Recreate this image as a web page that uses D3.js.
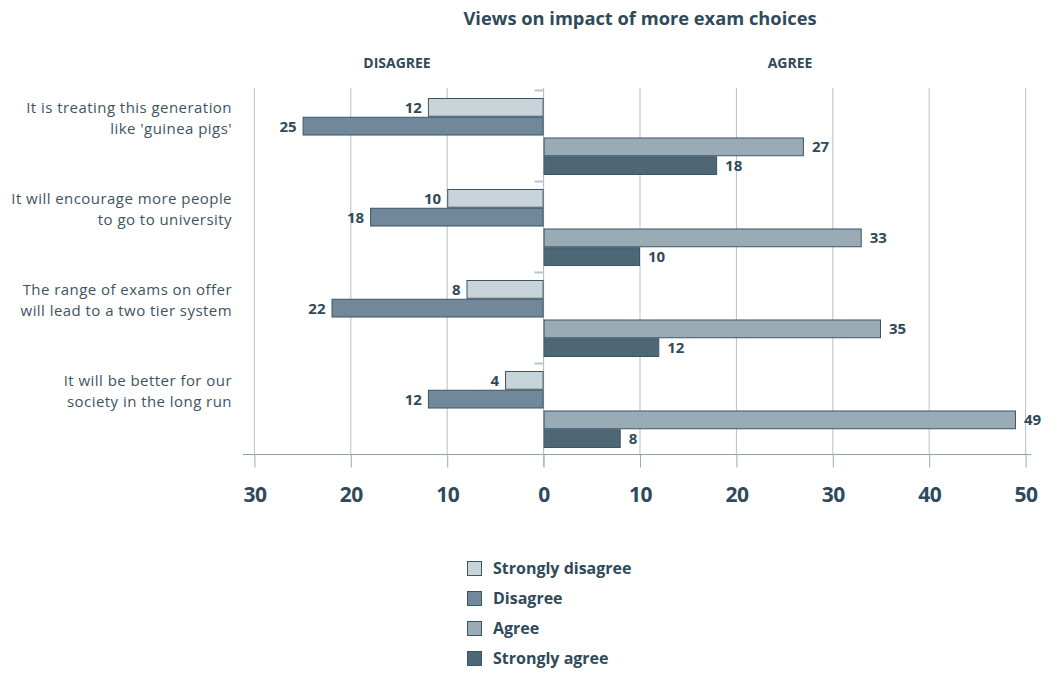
<!DOCTYPE html>
<html>
<head>
<meta charset="utf-8">
<script src="https://cdn.jsdelivr.net/npm/d3@7"></script>
<style>
  html, body { margin: 0; padding: 0; background: #ffffff; }
  svg { display: block; font-family: "Open Sans", sans-serif; }
</style>
</head>
<body>
<svg id="chart" width="1059" height="673"></svg>
<script>
// Survey statements (two-line labels) and the share of respondents per answer
const statements = [
  ["It is treating this generation", "like 'guinea pigs'"],
  ["It will encourage more people", "to go to university"],
  ["The range of exams on offer", "will lead to a two tier system"],
  ["It will be better for our", "society in the long run"]
];
const seriesNames = ["Strongly disagree", "Disagree", "Agree", "Strongly agree"];
const stronglyDisagree = [12, 10, 8, 4];
const disagree = [25, 18, 22, 12];
const agree = [27, 33, 35, 49];
const stronglyAgree = [18, 10, 12, 8];
const tickValues = [-30, -20, -10, 0, 10, 20, 30, 40, 50];
const sideTitles = ["DISAGREE", "AGREE"];
const chartTitle = "Views on impact of more exam choices";

const seriesValues = [stronglyDisagree, disagree, agree, stronglyAgree];
const seriesSide = ["disagree", "disagree", "agree", "agree"];
const fills = ["#c9d3da", "#71889a", "#99acb6", "#4e6777"];
const stroke = "#3c5565";
const textDark = "#2f4a5a";

const svg = d3.select("#chart");

const x = d3.scaleLinear().domain([-30, 50]).range([254.4, 1025.6]);
const y = d3.scaleBand().domain(d3.range(statements.length)).range([90, 454]);
const side = d3.scaleBand().domain(["disagree", "agree"]).range([8, 85]).paddingInner(0.05);
const inner = d3.scaleBand().domain([0, 1]).range([0, side.bandwidth()]);

// Vertical gridlines
svg.append("g").selectAll("line")
  .data(tickValues.filter(v => v !== 0))
  .join("line")
  .attr("x1", d => x(d)).attr("x2", d => x(d))
  .attr("y1", 88).attr("y2", 454)
  .attr("stroke", "#b3c1ca").attr("stroke-width", 1);

// Bottom axis with absolute-value labels
const xAxis = d3.axisBottom(x)
  .tickValues(tickValues)
  .tickSize(13)
  .tickPadding(20)
  .tickFormat(d => Math.abs(d));
const gx = svg.append("g").attr("transform", "translate(0,454.5)").call(xAxis);
gx.select(".domain").remove();
gx.append("line").attr("x1", 243).attr("x2", 1031).attr("stroke", "#8fa2af");
gx.selectAll(".tick line").attr("stroke", "#9aacb8");
gx.selectAll(".tick text")
  .attr("fill", textDark)
  .attr("font-family", "Open Sans, sans-serif")
  .attr("font-size", 21)
  .attr("font-weight", 700)
  .attr("letter-spacing", -0.5);

// Centre line and category separators
svg.append("line")
  .attr("x1", x(0)).attr("x2", x(0)).attr("y1", 88).attr("y2", 467)
  .attr("stroke", "#a9b8c2");
svg.append("g").selectAll("line")
  .data(d3.range(statements.length))
  .join("line")
  .attr("x1", x(0) - 9).attr("x2", x(0))
  .attr("y1", d => y(d) + 0.5).attr("y2", d => y(d) + 0.5)
  .attr("stroke", "#b8c4cc").attr("stroke-width", 2);

// Bars
const bars = [];
seriesValues.forEach((vals, s) => {
  vals.forEach((v, i) => {
    bars.push({ s, i, v: seriesSide[s] === "disagree" ? -v : v, label: v });
  });
});
const barY = d => y(d.i) + side(seriesSide[d.s]) + inner(d.s % 2);

svg.append("g").selectAll("rect")
  .data(bars)
  .join("rect")
  .attr("x", d => Math.min(x(0), x(d.v)) + 0.5)
  .attr("y", d => barY(d) + 0.5)
  .attr("width", d => Math.abs(x(d.v) - x(0)) - 1)
  .attr("height", inner.bandwidth() - 1)
  .attr("fill", d => fills[d.s])
  .attr("stroke", stroke)
  .attr("stroke-width", 1);

// Value labels
svg.append("g").selectAll("text")
  .data(bars)
  .join("text")
  .attr("x", d => d.v < 0 ? x(d.v) - 6 : x(d.v) + 8)
  .attr("y", d => barY(d) + inner.bandwidth() / 2)
  .attr("dy", "0.36em")
  .attr("text-anchor", d => d.v < 0 ? "end" : "start")
  .attr("fill", textDark)
  .attr("font-size", 15)
  .attr("font-weight", 700)
  .text(d => d.label);

// Category labels, one text element per line
const cat = svg.append("g").selectAll("g")
  .data(statements)
  .join("g");
cat.each(function (lines, i) {
  d3.select(this).selectAll("text")
    .data(lines)
    .join("text")
    .attr("x", 232)
    .attr("y", (line, k) => y(i) + 18 + k * 20.5)
    .attr("dy", "0.36em")
    .attr("text-anchor", "end")
    .attr("fill", "#3e5463")
    .attr("font-size", 15)
    .attr("letter-spacing", 0.45)
    .text(line => line);
});

// Titles
svg.append("text")
  .attr("x", 640).attr("y", 18).attr("dy", "0.36em")
  .attr("text-anchor", "middle")
  .attr("fill", textDark)
  .attr("font-size", 18.3).attr("font-weight", 700)
  .text(chartTitle);
svg.append("text")
  .attr("x", 397).attr("y", 63).attr("dy", "0.36em")
  .attr("text-anchor", "middle")
  .attr("fill", textDark).attr("font-size", 14).attr("font-weight", 700)
  .text(sideTitles[0]);
svg.append("text")
  .attr("x", 790).attr("y", 63).attr("dy", "0.36em")
  .attr("text-anchor", "middle")
  .attr("fill", textDark).attr("font-size", 14).attr("font-weight", 700)
  .text(sideTitles[1]);

// Legend
const legend = svg.append("g").attr("transform", "translate(467,561)");
const item = legend.selectAll("g")
  .data(seriesNames)
  .join("g")
  .attr("transform", (d, i) => `translate(0,${i * 30})`);
item.append("rect")
  .attr("x", 0.5).attr("y", 0.5)
  .attr("width", 14).attr("height", 14)
  .attr("fill", (d, i) => fills[i])
  .attr("stroke", stroke);
item.append("text")
  .attr("x", 26).attr("y", 7.5).attr("dy", "0.36em")
  .attr("fill", textDark)
  .attr("font-size", 16).attr("font-weight", 700)
  .text(d => d);
</script>
</body>
</html>
